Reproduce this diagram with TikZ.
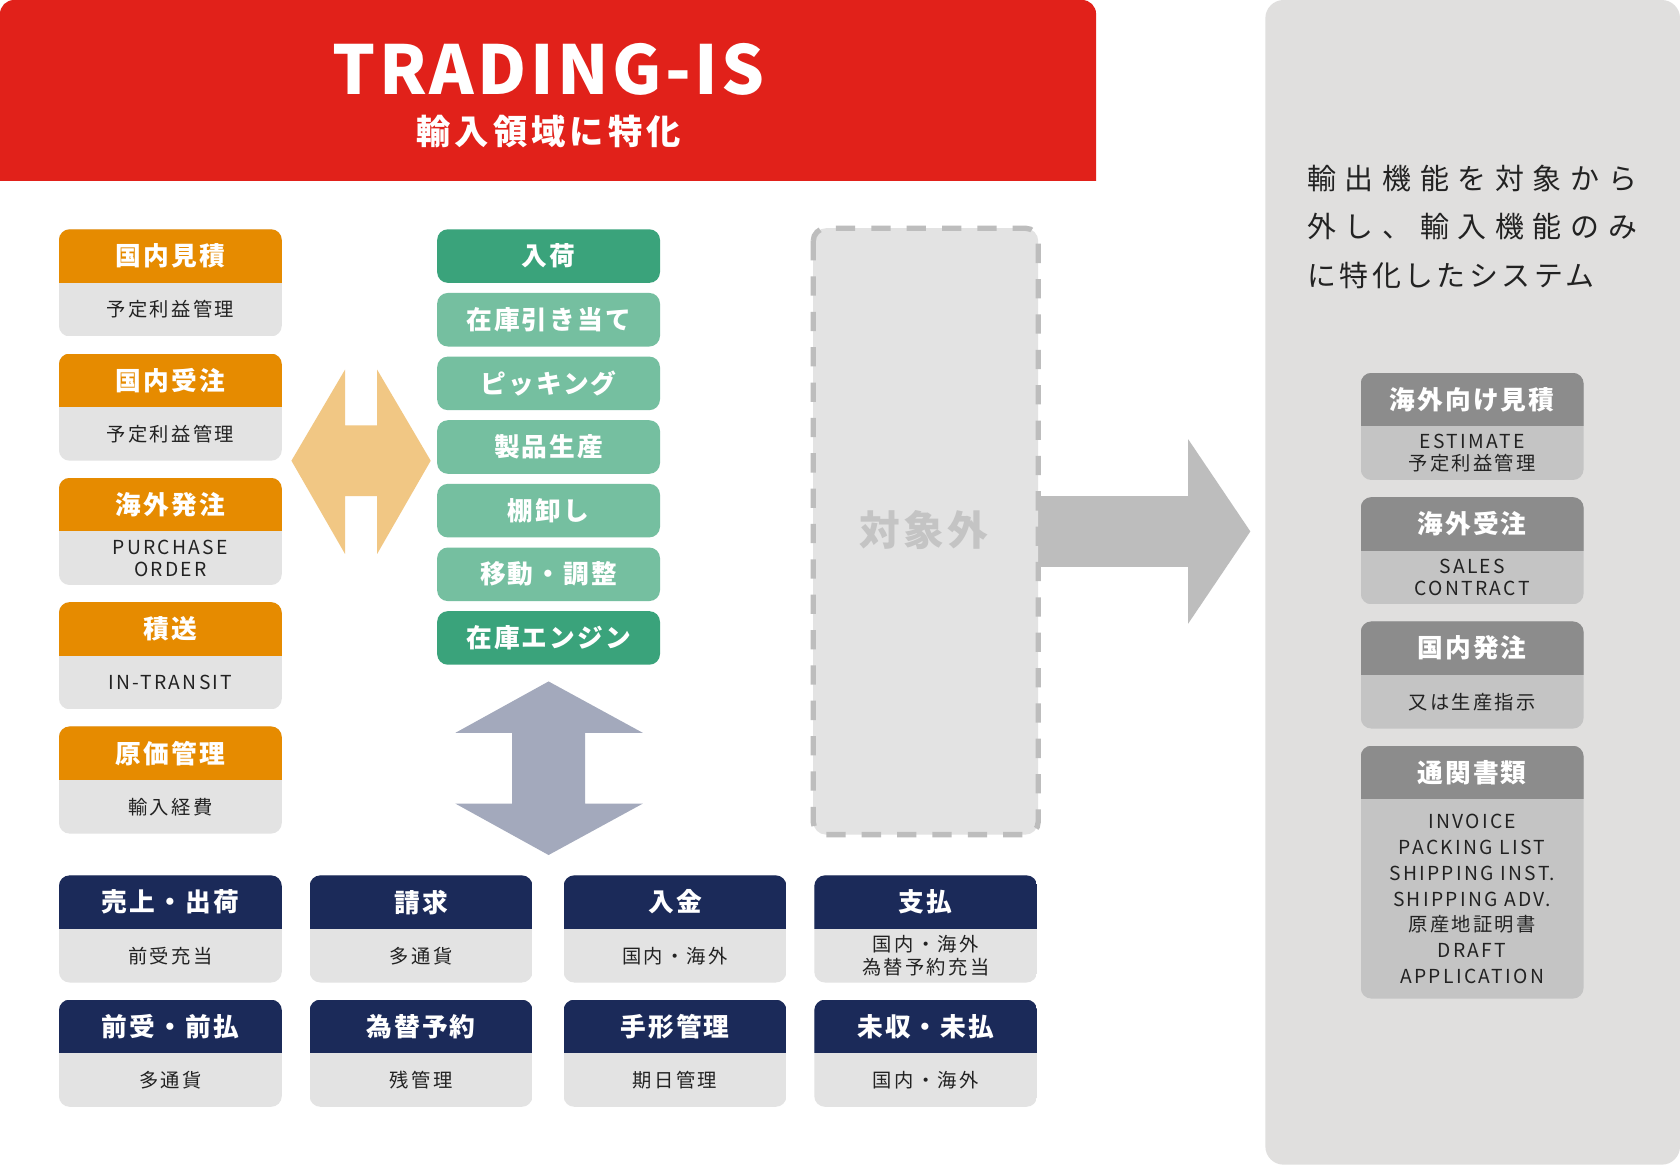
\documentclass[tikz,border=0pt]{standalone}
\usepackage{fontspec}
\setmainfont{Noto Sans CJK JP}
\newfontfamily\titlefont{Noto Sans CJK JP}[LetterSpace=5]
\newfontfamily\headfont{Noto Sans CJK JP}[LetterSpace=8]
\newfontfamily\bodyfont{Noto Sans CJK JP}[LetterSpace=12]
\newfontfamily\notefont{Noto Sans CJK JP}[LetterSpace=30]
\newfontfamily\notetightfont{Noto Sans CJK JP}[LetterSpace=12]
\usetikzlibrary{positioning}

\definecolor{tisred}{HTML}{E1211A}
\definecolor{tisorange}{HTML}{E68B00}
\definecolor{tisamber}{HTML}{F1C784}
\definecolor{tisgreen}{HTML}{3AA37B}
\definecolor{tismint}{HTML}{75BFA0}
\definecolor{tisnavy}{HTML}{1B2A59}
\definecolor{tisslate}{HTML}{A3A9BC}
\definecolor{tispale}{HTML}{E3E3E3}
\definecolor{tispanel}{HTML}{E0DFDE}
\definecolor{tisgrey}{HTML}{8C8C8C}
\definecolor{tissilver}{HTML}{C4C4C4}
\definecolor{tisdash}{HTML}{BDBDBD}
\definecolor{tisink}{HTML}{222222}

\tikzset{
  headtext/.style={text=white, inner sep=0pt, font=\headfont\bfseries\fontsize{24}{28}\selectfont},
  bodytext/.style={text=tisink, inner sep=0pt, align=center, font=\bodyfont\fontsize{18}{21}\selectfont},
  stockbox/.style={rounded corners=10pt, minimum width=208pt, minimum height=50pt, inner sep=0pt, headtext},
  outbox/.style={fill=tispale, draw=tisdash, line width=5pt, dash pattern=on 18pt off 15pt, rounded corners=12pt}
}

% card: name, left, top, head colour, body colour, body height, head text, body text
\newcommand{\tiscard}[8]{%
  \begin{scope}
    \clip[rounded corners=10pt] (#2,#3) rectangle ++(208,50+#6);
    \fill[#5] (#2,#3) rectangle ++(208,50+#6);
    \fill[#4] (#2,#3) rectangle ++(208,50);
  \end{scope}
  \node[headtext] (#1) at (#2+104,#3+25) {#7};
  \node[bodytext] (#1-sub) at (#2+104,#3+50+#6/2) {#8};
}

\begin{document}
\begin{tikzpicture}[x=1pt, y=-1pt]
  \useasboundingbox (0,0) rectangle (1568,1088);
  \fill[white] (0,0) rectangle (1568,1088);

  % banner
  \begin{scope}
    \clip (0,0) rectangle (1568,168);
    \fill[tisred, rounded corners=13pt] (0,0) rectangle (1023,200);
  \end{scope}
  \node[text=white, inner sep=0pt, font=\titlefont\bfseries\fontsize{63}{74}\selectfont] (title) at (512,65) {TRADING-IS};
  \node[text=white, inner sep=0pt, font=\bodyfont\bfseries\fontsize{32}{36}\selectfont] (subtitle) at (512,123) {輸入領域に特化};

  % right panel
  \fill[tispanel, rounded corners=17pt] (1181,0) rectangle (1568,1087);
  \node[anchor=north west, align=left, inner sep=0pt, text=tisink,
        font=\notefont\fontsize{27}{45}\selectfont] (note) at (1220,154)
        {輸出機能を対象から\\外し、輸入機能のみ\\{\notetightfont に特化したシステム}};

  % order cards
  \tiscard{est}{55}{214}{tisorange}{tispale}{50}{国内見積}{予定利益管理}
  \tiscard{ord}{55}{330}{tisorange}{tispale}{50}{国内受注}{予定利益管理}
  \tiscard{po}{55}{446}{tisorange}{tispale}{50}{海外発注}{PURCHASE\\ORDER}
  \tiscard{transit}{55}{562}{tisorange}{tispale}{50}{積送}{IN-TRANSIT}
  \tiscard{cost}{55}{678}{tisorange}{tispale}{50}{原価管理}{輸入経費}

  % stock column
  \node[stockbox, fill=tisgreen] (arrival) at (512,239) {入荷};
  \node[stockbox, fill=tismint, below=9pt of arrival] (alloc) {在庫引き当て};
  \node[stockbox, fill=tismint, below=9pt of alloc] (picking) {ピッキング};
  \node[stockbox, fill=tismint, below=9pt of picking] (production) {製品生産};
  \node[stockbox, fill=tismint, below=9pt of production] (count) {棚卸し};
  \node[stockbox, fill=tismint, below=9pt of count] (move) {移動・調整};
  \node[stockbox, fill=tisgreen, below=9pt of move] (engine) {在庫エンジン};

  % arrows
  \fill[tisamber] (272,430) -- (322,345) -- (322,397) -- (352,397) -- (352,345) -- (402,430)
    -- (352,517) -- (352,463) -- (322,463) -- (322,517) -- cycle;
  \fill[tisslate] (512,636) -- (600,684) -- (546,684) -- (546,750) -- (600,750) -- (512,798)
    -- (425,750) -- (478,750) -- (478,684) -- (425,684) -- cycle;
  \fill[tisdash] (966,463) -- (1109,463) -- (1109,410) -- (1167,496) -- (1109,582) -- (1109,529)
    -- (966,529) -- cycle;

  % excluded block
  \draw[outbox] (759,213) rectangle (969,779);
  \node[text=tisdash!90, inner sep=0pt, font=\headfont\bfseries\fontsize{38}{40}\selectfont] (excluded) at (862,495) {対象外};

  % export cards
  \tiscard{xest}{1270}{348}{tisgrey}{tissilver}{50}{海外向け見積}{ESTIMATE\\予定利益管理}
  \tiscard{xord}{1270}{464}{tisgrey}{tissilver}{50}{海外受注}{SALES\\CONTRACT}
  \tiscard{xpo}{1270}{580}{tisgrey}{tissilver}{50}{国内発注}{又は生産指示}
  \tiscard{docs}{1270}{696}{tisgrey}{tissilver}{186}{通関書類}{INVOICE\\[3pt]PACKING LIST\\[3pt]SHIPPING INST.\\[3pt]SHIPPING ADV.\\[3pt]原産地証明書\\[3pt]DRAFT\\[3pt]APPLICATION}

  % accounting cards
  \tiscard{sales}{55}{817}{tisnavy}{tispale}{50}{売上・出荷}{前受充当}
  \tiscard{bill}{289}{817}{tisnavy}{tispale}{50}{請求}{多通貨}
  \tiscard{receipt}{526}{817}{tisnavy}{tispale}{50}{入金}{国内・海外}
  \tiscard{pay}{760}{817}{tisnavy}{tispale}{50}{支払}{国内・海外\\為替予約充当}
  \tiscard{advance}{55}{933}{tisnavy}{tispale}{50}{前受・前払}{多通貨}
  \tiscard{fx}{289}{933}{tisnavy}{tispale}{50}{為替予約}{残管理}
  \tiscard{bills}{526}{933}{tisnavy}{tispale}{50}{手形管理}{期日管理}
  \tiscard{open}{760}{933}{tisnavy}{tispale}{50}{未収・未払}{国内・海外}
\end{tikzpicture}
\end{document}
